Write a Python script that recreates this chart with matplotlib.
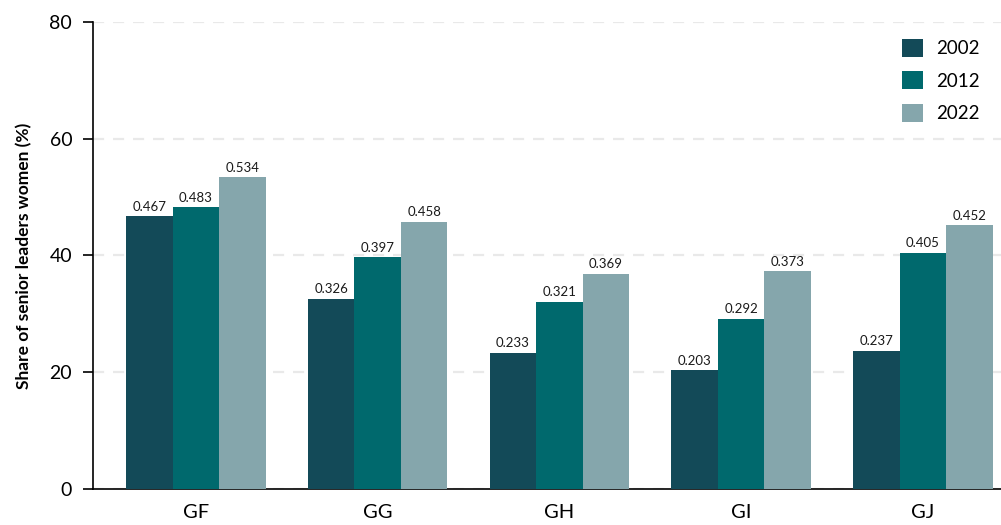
import matplotlib.pyplot as plt
import numpy as np

# data
groups = ['GF', 'GG', 'GH', 'GI', 'GJ']
years = ['2002', '2012', '2022']
share_2002 = [0.467, 0.326, 0.233, 0.203, 0.237]
share_2012 = [0.483, 0.397, 0.321, 0.292, 0.405]
share_2022 = [0.534, 0.458, 0.369, 0.373, 0.452]

colors = ['#134A58', '#00696D', '#85A6AC']

plt.rcParams['font.family'] = ['Lato', 'DejaVu Sans']

fig = plt.figure(figsize=(10.01, 5.25), dpi=100)
fig.patch.set_facecolor('white')
ax = fig.add_axes([0.0929, 0.0686, 0.9071, 0.8895])

x = np.arange(len(groups))
width = 0.256
series = [share_2002, share_2012, share_2022]
for i, (vals, yr, col) in enumerate(zip(series, years, colors)):
    pos = x + (i - 1) * width
    heights = [v * 100 for v in vals]
    ax.bar(pos, heights, width, color=col, label=yr, zorder=3)
    for px, h, v in zip(pos, heights, vals):
        ax.text(px, h + 0.6, f'{v:.3f}', ha='center', va='bottom',
                fontsize=9.5, color='#1a1a1a', zorder=4)

ax.set_xlim(-0.566, 4.43)
ax.set_ylim(0, 80)
ax.set_yticks([0, 20, 40, 60, 80])
ax.set_xticks(x)
ax.set_xticklabels(groups)
ax.tick_params(axis='y', labelsize=14, length=7, width=1.2, pad=8)
ax.tick_params(axis='x', labelsize=14.5, length=0, pad=11)
ax.yaxis.grid(True, color='#e9e9e9', linestyle=(0, (5, 4)), linewidth=1.6, zorder=0)
ax.set_axisbelow(True)

for s in ['top', 'right']:
    ax.spines[s].set_visible(False)
ax.spines['left'].set_linewidth(1.2)
ax.spines['bottom'].set_linewidth(1.2)

ax.set_ylabel('Share of senior leaders women (%)', fontsize=12.5,
              fontweight='bold', labelpad=12)

leg = ax.legend(loc='upper right', frameon=False, fontsize=13.5,
                handlelength=1.1, handleheight=1.1, handletextpad=0.7,
                labelspacing=0.75, bbox_to_anchor=(0.995, 1.0))

plt.savefig('out.png', dpi=100, facecolor='white')
